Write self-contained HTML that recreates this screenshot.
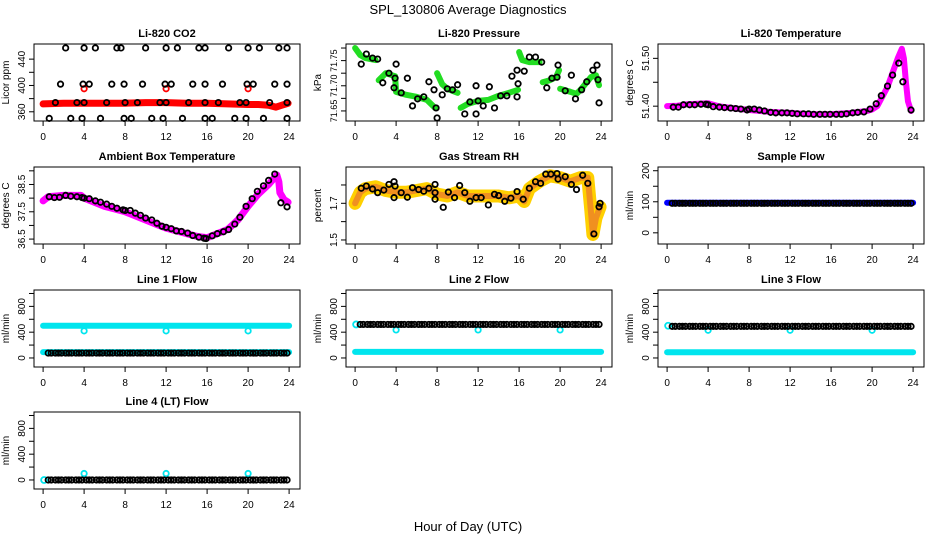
<!DOCTYPE html>
<html><head><meta charset="utf-8">
<style>
html,body{margin:0;padding:0;background:#fff}
svg{display:block}
text{font-family:"Liberation Sans",sans-serif;fill:#000}
</style></head>
<body>
<svg id="root" width="936" height="540" viewBox="0 0 936 540" xmlns="http://www.w3.org/2000/svg">
<text x="468" y="14" font-size="13" text-anchor="middle">SPL_130806  Average Diagnostics</text>
<text x="468" y="531" font-size="13" text-anchor="middle">Hour of Day (UTC)</text>
</svg>
<script>
// ---------- data ----------
const xTicks = [0,4,8,12,16,20,24];
// CO2
const co2BandT = [0,2,4,6,8,10,12,14,16,18,20,21,22,22.7,23.3,23.9];
const co2BandV = [372,373,373,373,373,374,374,373,373,372,371,371,370,367,370,373];
const co2BlackT = [2.2,4,5.1,7.2,7.6,10,12,13.1,15.2,15.8,18.1,20,21.1,23,23.8,
  1.7,3.9,4.5,6.7,7.9,9.7,11.9,12.5,14.6,15.8,17.5,19.9,20.5,22.6,23.8,
  1.2,3.3,4,6.2,8,9.2,11.4,12,14.2,15.8,17.1,19.2,19.8,22.1,23.8,
  0.6,2.7,3.8,5.6,7.9,8.6,10.6,11.7,13.6,15.8,16.5,18.7,19.8,21.5,23.8];
const co2BlackV = [457,457,457,457,457,457,457,457,457,457,457,457,457,457,457,
  402,402,402,402,402,402,402,402,402,402,402,402,402,402,402,
  374,374,374,374,374,374,374,374,374,374,374,374,374,374,374,
  350,350,350,350,350,350,350,350,350,350,350,350,350,350,350];
const co2RedT = [4,12,20];
const co2RedV = [395,395,395];
// Pressure
const presSegT = [[0,0.5,1,2],[2.3,3,3.9,4,5,6,7,7.8],[8,8.5,9,10],[10.3,11,12,13,14,15,15.9],[16,16.3,17,18],[18.3,19,19.6,19.9],[20,21,21.6,22,22.6,23,23.5,23.8]];
const presSegV = [[71.775,71.761,71.755,71.751],[71.711,71.725,71.719,71.688,71.682,71.678,71.672,71.656],[71.725,71.703,71.694,71.686],[71.656,71.664,71.670,71.672,71.680,71.686,71.692],[71.767,71.751,71.747,71.747],[71.707,71.711,71.717,71.731],[71.694,71.688,71.684,71.692,71.707,71.717,71.721,71.701]];
const presBlackT = [0.6,1.1,1.7,2.2,2.7,3.3,3.9,3.8,4,4.5,5.1,5.6,6.1,6.7,7.2,7.7,7.9,8.0,8.5,9,9.5,10,10.7,11.2,11.8,11.8,12,12.5,13.1,13.6,14.2,14.8,15.3,15.8,15.8,15.9,16.5,17,17.6,18.2,18.7,19.2,19.7,19.8,20.5,21.1,21.5,22.1,22.6,23.2,23.6,23.7,23.8];
const presBlackV = [71.743,71.763,71.755,71.753,71.706,71.725,71.715,71.696,71.743,71.686,71.715,71.660,71.674,71.678,71.708,71.692,71.656,71.636,71.682,71.694,71.692,71.702,71.644,71.668,71.644,71.700,71.670,71.660,71.698,71.656,71.680,71.680,71.719,71.731,71.678,71.704,71.729,71.757,71.757,71.747,71.696,71.715,71.717,71.741,71.690,71.721,71.674,71.692,71.708,71.731,71.741,71.712,71.666];
// Li-820 temperature
const ltBandT = [0,1,2,3,4,5,6,8,10,12,14,16,18,19.5,20,20.5,21,21.5,22,22.5,22.9,23.1,23.3,23.5,23.8];
const ltBandV = [51.400,51.401,51.404,51.405,51.406,51.400,51.397,51.392,51.388,51.386,51.383,51.383,51.386,51.390,51.393,51.400,51.420,51.440,51.470,51.500,51.520,51.500,51.450,51.410,51.390];
const ltBlackT = [0.6,1.1,1.6,2.2,2.7,3.3,3.8,4,4.5,5.1,5.6,6.2,6.7,7.2,7.8,8,8.5,9,9.5,10.1,10.6,11.2,11.7,12.2,12.7,13.3,13.8,14.3,14.9,15.4,15.9,16.5,17,17.5,18.1,18.6,19.2,19.8,20.4,20.9,21.5,22,22.6,23.0,23.8];
const ltBlackV = [51.398,51.398,51.403,51.403,51.403,51.404,51.404,51.403,51.399,51.398,51.397,51.396,51.395,51.394,51.392,51.394,51.394,51.392,51.390,51.387,51.386,51.386,51.386,51.385,51.384,51.384,51.384,51.383,51.383,51.383,51.383,51.383,51.383,51.384,51.386,51.387,51.388,51.394,51.405,51.422,51.442,51.465,51.490,51.451,51.392];
// Ambient box temperature
const ambBandT = [0,0.5,2,3.7,4,5,6,7,8,9,10,11,12,13,14,15,16,17,18,19,20,21,22,22.8,23,23.1,23.5,23.9];
const ambBandV = [37.9,38.05,38.1,38.1,38.0,37.85,37.7,37.6,37.5,37.35,37.2,37.05,36.9,36.8,36.7,36.6,36.55,36.7,36.85,37.2,37.7,38.15,38.5,38.85,38.6,38.2,37.95,37.85];
const ambBlackT = [0.6,1.1,1.6,2.2,2.7,3.3,3.8,4,4.5,5.1,5.6,6.2,6.7,7.2,7.8,8,8.5,9,9.5,10,10.6,11.1,11.6,12,12.5,13,13.5,14.1,14.6,15.2,15.7,15.9,16.5,17,17.6,18.1,18.7,19.2,19.8,20.4,20.9,21.5,22,22.6,23.2,23.8];
const ambBlackV = [38.05,38.02,38.03,38.1,38.07,38.05,38.02,38.0,37.98,37.9,37.85,37.78,37.7,37.63,37.57,37.55,37.55,37.45,37.37,37.27,37.2,37.08,36.97,36.93,36.88,36.8,36.78,36.72,36.63,36.57,36.53,36.52,36.62,36.7,36.77,36.85,37.05,37.3,37.7,37.98,38.25,38.45,38.65,38.88,37.83,37.68];
// Gas stream RH
const rhBandT = [0,0.5,1,2,3,4,5,6,7,8,9,10,11,12,13,14,15,16,16.5,17,18,19,20,21,22,22.7,23,23.2,23.5,23.9];
const rhBandV = [1.70,1.76,1.78,1.79,1.77,1.76,1.76,1.77,1.78,1.75,1.74,1.76,1.74,1.74,1.74,1.74,1.73,1.74,1.71,1.78,1.82,1.85,1.84,1.82,1.84,1.84,1.66,1.53,1.62,1.68];
const rhBlackT = [0.6,1.1,1.7,2.2,2.8,3.3,3.8,3.9,3.8,4.5,5.1,5.6,6.2,6.7,7.2,7.8,7.8,7.8,8.6,9.1,9.7,10.2,10.7,11.2,11.8,12.3,13,13.6,14,14.6,15.2,15.8,16.4,17,17.6,18.1,18.6,19.1,19.7,19.8,20.5,21.1,21.6,22.2,22.7,23.3,23.8,23.9];
const rhBlackV = [1.782,1.794,1.778,1.758,1.772,1.803,1.818,1.794,1.731,1.758,1.733,1.785,1.775,1.766,1.782,1.803,1.758,1.722,1.678,1.761,1.731,1.797,1.758,1.711,1.731,1.731,1.691,1.749,1.742,1.711,1.728,1.764,1.722,1.782,1.818,1.809,1.859,1.859,1.862,1.832,1.845,1.803,1.775,1.853,1.809,1.533,1.681,1.700];
// Flows
const flowTimes = [0.5,0.8,1.2,1.5,1.8,2.2,2.5,2.8,3.2,3.5,3.8,4.2,4.5,4.8,5.2,5.5,5.8,6.2,6.5,6.8,7.2,7.5,7.8,8.2,8.5,8.8,9.2,9.5,9.8,10.2,10.5,10.8,11.2,11.5,11.8,12.2,12.5,12.8,13.2,13.5,13.8,14.2,14.5,14.8,15.2,15.5,15.8,16.2,16.5,16.8,17.2,17.5,17.8,18.2,18.5,18.8,19.2,19.5,19.8,20.2,20.5,20.8,21.2,21.5,21.8,22.2,22.5,22.8,23.2,23.5,23.8];
const sampleBand = [97];
const sampleBlack = [95];
const line1Bands = [500, 90];
const line1Black = [76];
const line2Bands = [95];
const line2Black = [520];
const line3Bands = [88];
const line3Black = [490];
const line4Black = [0];
const flowOutT = [4,12,20];
const line1Out = [420,420,420];
const line2Out = [435,435,435];
const line3Out = [430,430,430];
const line4Out = [100,100,100];
const flowStartT = [0.1];
const line2Start = [520];
const line3Start = [500];
const line4Start = [0];

// ---------- drawing ----------
const NS = "http://www.w3.org/2000/svg";
const root = document.getElementById('root');
const colLeft = [34,346,658], rowTop = [44,167,290,412], BW = 266, BH = 77;
function mk(tag, attrs, parent){
  const e = document.createElementNS(NS, tag);
  for (const k in attrs) e.setAttribute(k, attrs[k]);
  (parent||root).appendChild(e);
  return e;
}
function ylabel(L,y,txt,fs){
  const lb = mk('text',{x:0,y:0,'font-size':fs||10,'text-anchor':'middle',transform:`translate(${L-9},${y}) rotate(-90)`});
  lb.textContent = txt;
  
  
}
function panel(col,row,title,ylab,ymin,ymax,ticks,labels){
  const L = colLeft[col], T = rowTop[row];
  const g = mk('g',{});
  
  
  const xs = t => L + 9.1 + t*246/24;
  const ys = v => T + (ymax - v)/(ymax - ymin)*BH;
  const plot = mk('g',{},g);
  
  
  const fr = mk('rect',{x:L,y:T,width:BW,height:BH,fill:'none',stroke:'#000','stroke-width':1},g);
  
  
  const tt = mk('text',{x:L+BW/2,y:T-7,'font-size':11,'font-weight':'bold','text-anchor':'middle'},g);
  tt.textContent = title;
  
  
  const yl = mk('text',{x:0,y:0,'font-size':10,'text-anchor':'middle',transform:`translate(${L-25},${T+BH/2}) rotate(-90)`},g);
  yl.textContent = ylab;
  
  
  const xa = mk('g',{},g);
  
  
  xTicks.forEach(t=>{
    mk('line',{x1:xs(t),x2:xs(t),y1:T+BH,y2:T+BH+5,stroke:'#000'},xa);
    const lb = mk('text',{x:xs(t),y:T+BH+19,'font-size':10,'text-anchor':'middle'},xa);
    lb.textContent = t;
    
    
  });
  const ya = mk('g',{},g);
  
  
  ticks.forEach(v=>{ mk('line',{x1:L-5,x2:L,y1:ys(v),y2:ys(v),stroke:'#000'},ya); });
  labels.forEach(v=>ylabel(L,ys(v),v));
  return {plot,xs,ys,L};
}
function band(p,T,V,color,w,name){
  const pl = mk('polyline',{points:T.map((t,i)=>p.xs(t)+','+p.ys(V[i])).join(' '),fill:'none',stroke:color,'stroke-width':w,'stroke-linejoin':'round','stroke-linecap':'round'},p.plot);
  
  
}
function pts(p,T,V,color,name,r){
  const g = mk('g',{},p.plot);
  
  
  T.forEach((t,i)=>{
    const c = mk('circle',{cx:p.xs(t),cy:p.ys(V[i]),r:r||2.7,fill:'none',stroke:color,'stroke-width':1.8},g);
    
    
  });
}

// CO2
let p = panel(0,0,'Li-820 CO2','Licor ppm',346,463,[360,380,400,420,440],[360,400,440]);
band(p,co2BandT,co2BandV,'#ff0000',7,'co2-red-series');
pts(p,co2RedT,co2RedV,'#ff0000','co2-red-outliers');
pts(p,co2BlackT,co2BlackV,'#000','co2-black-points');

// Pressure
p = panel(1,0,'Li-820 Pressure','kPa',71.630,71.783,[71.65,71.675,71.70,71.725,71.75,71.775],[]);
ylabel(p.L,p.ys(71.65),'71.65',9);
ylabel(p.L,p.ys(71.70),'71.70',9);
ylabel(p.L,p.ys(71.75),'71.75',9);
presSegT.forEach((T,i)=>band(p,T,presSegV[i],'#22dd22',6,'pressure-green-segment'));
pts(p,presBlackT,presBlackV,'#000','pressure-black-points');

// Li-820 temperature
p = panel(2,0,'Li-820 Temperature','degrees C',51.369,51.530,[51.40,51.45,51.50],[]);
ylabel(p.L,p.ys(51.40),'51.40');
ylabel(p.L,p.ys(51.50),'51.50');
band(p,ltBandT,ltBandV,'#ff00ff',6,'litemp-magenta-series');
pts(p,ltBlackT,ltBlackV,'#000','litemp-black-points');

// Ambient
p = panel(0,1,'Ambient Box Temperature','degrees C',36.32,39.14,[36.5,37,37.5,38,38.5,39],[36.5,37.5,38.5]);
band(p,ambBandT,ambBandV,'#ff00ff',7,'ambient-magenta-series');
pts(p,ambBlackT,ambBlackV,'#000','ambient-black-points');

// RH
p = panel(1,1,'Gas Stream RH','percent',1.478,1.898,[1.5,1.6,1.7,1.8],[]);
ylabel(p.L,p.ys(1.5),'1.5');
ylabel(p.L,p.ys(1.7),'1.7');
band(p,rhBandT,rhBandV,'#ffd000',13,'rh-yellow-series');
band(p,rhBandT,rhBandV,'#f09020',6,'rh-orange-series');
pts(p,rhBlackT,rhBlackV,'#000','rh-black-points');

// Sample flow
p = panel(2,1,'Sample Flow','ml/min',-36,212,[0,50,100,150,200],[0,100,200]);
band(p,[0,24],[sampleBand[0],sampleBand[0]],'#0000ff',6,'sample-blue-series');
pts(p,flowTimes,flowTimes.map(()=>sampleBlack[0]),'#000','sample-black-points');

const fT=[0,200,400,600,800,1000], fL=[0,400,800];
// Line 1
p = panel(0,2,'Line 1 Flow','ml/min',-140,1054,fT,fL);
line1Bands.forEach(v=>band(p,[0,24],[v,v],'#00e5ee',6,'line1-cyan-series'));
pts(p,flowOutT,line1Out,'#00e5ee','line1-cyan-outliers');
pts(p,flowTimes,flowTimes.map(()=>line1Black[0]),'#000','line1-black-points');
// Line 2
p = panel(1,2,'Line 2 Flow','ml/min',-140,1054,fT,fL);
line2Bands.forEach(v=>band(p,[0,24],[v,v],'#00e5ee',6,'line2-cyan-series'));
pts(p,flowStartT,line2Start,'#00e5ee','line2-cyan-start',3);
pts(p,flowOutT,line2Out,'#00e5ee','line2-cyan-outliers');
pts(p,flowTimes,flowTimes.map(()=>line2Black[0]),'#000','line2-black-points');
// Line 3
p = panel(2,2,'Line 3 Flow','ml/min',-140,1054,fT,fL);
line3Bands.forEach(v=>band(p,[0,24],[v,v],'#00e5ee',6,'line3-cyan-series'));
pts(p,flowStartT,line3Start,'#00e5ee','line3-cyan-start',3);
pts(p,flowOutT,line3Out,'#00e5ee','line3-cyan-outliers');
pts(p,flowTimes,flowTimes.map(()=>line3Black[0]),'#000','line3-black-points');
// Line 4
p = panel(0,3,'Line 4 (LT) Flow','ml/min',-140,1054,fT,fL);
pts(p,flowStartT,line4Start,'#00e5ee','line4-cyan-start',3);
pts(p,flowOutT,line4Out,'#00e5ee','line4-cyan-outliers');
pts(p,flowTimes,flowTimes.map(()=>line4Black[0]),'#000','line4-black-points');
</script>
</body></html>
